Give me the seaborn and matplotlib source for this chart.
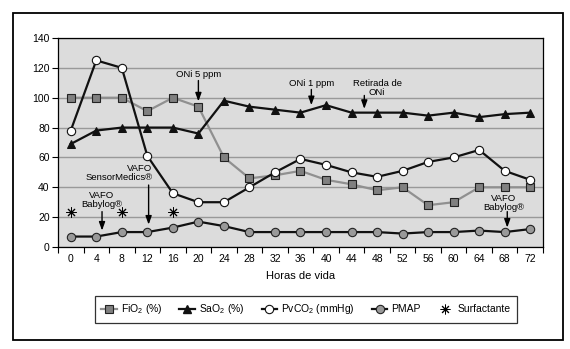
import numpy as np
import pandas as pd
import matplotlib
matplotlib.use("Agg")
import matplotlib.pyplot as plt
import seaborn as sns
from matplotlib.lines import Line2D
from matplotlib.patches import Rectangle

# ---------------- data ----------------
hours = [0, 4, 8, 12, 16, 20, 24, 28, 32, 36, 40, 44, 48, 52, 56, 60, 64, 68, 72]
fio2 = [100, 100, 100, 91, 100, 94, 60, 46, 48, 51, 45, 42, 38, 40, 28, 30, 40, 40, 40]
sao2 = [69, 78, 80, 80, 80, 76, 98, 94, 92, 90, 95, 90, 90, 90, 88, 90, 87, 89, 90]
pvco2 = [78, 125, 120, 61, 36, 30, 30, 40, 50, 59, 55, 50, 47, 51, 57, 60, 65, 51, 45]
pmap = [7, 7, 10, 10, 13, 17, 14, 10, 10, 10, 10, 10, 10, 9, 10, 10, 11, 10, 12]
surf_hours = [0, 8, 16]
surf_level = [23.5, 23.5, 23.5]
series_labels = ["FiO$_2$ (%)", "SaO$_2$ (%)", "PvCO$_2$ (mmHg)", "PMAP", "Surfactante"]
annot_text = ["VAFO\nBabylog®", "VAFO\nSensorMedics®", "ONi 5 ppm", "ONi 1 ppm",
              "Retirada de\nONi", "VAFO\nBabylog®"]

df = pd.DataFrame({"h": hours, "fio2": fio2, "sao2": sao2, "pvco2": pvco2, "pmap": pmap})
sdf = pd.DataFrame({"h": surf_hours, "v": surf_level})

plt.rcParams["font.family"] = ["Liberation Sans", "DejaVu Sans"]
plt.rcParams["mathtext.fontset"] = "custom"
plt.rcParams["mathtext.rm"] = "Liberation Sans"
plt.rcParams["mathtext.it"] = "Liberation Sans"

fig = plt.figure(figsize=(5.70, 3.49), dpi=100)
ax = fig.add_axes([58 / 570, 1 - 247 / 349, (543 - 58) / 570, (247 - 38) / 349])
ax.set_facecolor("#dcdcdc")

lw = 1.6
sq = dict(marker="s", markersize=5.5, markerfacecolor="#808080",
          markeredgecolor="#222222", markeredgewidth=0.8)
tri = dict(marker="^", markersize=5.5, markerfacecolor="#111111",
           markeredgecolor="#111111")
wc = dict(marker="o", markersize=6, markerfacecolor="white",
          markeredgecolor="#111111", markeredgewidth=0.8)
gc = dict(marker="o", markersize=6, markerfacecolor="#999999",
          markeredgecolor="#222222", markeredgewidth=0.8)

sns.lineplot(data=df, x="h", y="fio2", ax=ax, color="#909090", lw=lw, legend=False,
             zorder=3, **sq)
sns.lineplot(data=df, x="h", y="sao2", ax=ax, color="#111111", lw=lw, legend=False,
             zorder=4, **tri)
sns.lineplot(data=df, x="h", y="pvco2", ax=ax, color="#111111", lw=lw, legend=False,
             zorder=5, **wc)
sns.lineplot(data=df, x="h", y="pmap", ax=ax, color="#111111", lw=lw, legend=False,
             zorder=4, **gc)
sns.scatterplot(data=sdf, x="h", y="v", ax=ax, marker=(8, 2, 0), s=45,
                color="black", linewidth=0.7, legend=False, zorder=5)

ax.set_xlim(-2, 74)
ax.set_ylim(0, 140)
ax.set_xticks(hours)
ax.set_xticks(np.arange(-2, 75, 4), minor=True)
ax.tick_params(axis="x", which="major", length=0, pad=5, labelsize=7.5)
ax.tick_params(axis="x", which="minor", length=4, width=0.8, direction="out")
ax.set_yticks(np.arange(0, 141, 20))
ax.tick_params(axis="y", which="major", length=4, width=0.8, pad=2, labelsize=7.5)
ax.yaxis.grid(True, color="#999999", lw=1)
ax.xaxis.grid(False)
ax.set_axisbelow(True)
for s in ax.spines.values():
    s.set_color("black")
    s.set_linewidth(0.9)
ax.set_xlabel("Horas de vida", fontsize=8, labelpad=5)
ax.set_ylabel("")

# annotations
fs = 6.8
arrow = dict(arrowstyle="-|>,head_length=0.5,head_width=0.18", color="black", lw=1,
             shrinkA=0, shrinkB=0)
def arr(x, y0, y1):
    ax.annotate("", xy=(x, y1), xytext=(x, y0), arrowprops=arrow, zorder=6)

ax.text(4.9, 25.5, annot_text[0], ha="center", va="bottom", fontsize=fs, linespacing=1.0)
arr(4.9, 23.7, 11)
ax.text(12.8, 43.5, annot_text[1], ha="right", va="bottom", fontsize=fs,
        multialignment="right", linespacing=1.0)
arr(12.2, 41.5, 15)
ax.text(20, 112.5, annot_text[2], ha="center", va="bottom", fontsize=fs)
arr(20, 111.5, 97.5)
ax.text(37.7, 106.8, annot_text[3], ha="center", va="bottom", fontsize=fs)
arr(37.7, 105.5, 95)
ax.text(48, 100.5, annot_text[4], ha="center", va="bottom", fontsize=fs, linespacing=1.0)
arr(46, 101.5, 92.5)
ax.text(67.9, 23.5, annot_text[5], ha="center", va="bottom", fontsize=fs, linespacing=1.0)
arr(68.4, 23.7, 13)

# legend
handles = [
    Line2D([], [], color="#909090", lw=lw, **sq),
    Line2D([], [], color="#111111", lw=lw, **tri),
    Line2D([], [], color="#111111", lw=lw, **wc),
    Line2D([], [], color="#111111", lw=lw, **gc),
    Line2D([], [], color="black", lw=0, marker=(8, 2, 0), markersize=7,
           markeredgewidth=0.7),
]
leg = fig.legend(handles, series_labels, loc="center",
                 bbox_to_anchor=(306 / 570, 1 - 309.5 / 349), ncol=5, fontsize=7.5,
                 frameon=True, fancybox=False, edgecolor="black", handlelength=1.5,
                 handletextpad=0.4, columnspacing=1.6, borderpad=0.6,
                 borderaxespad=0)
leg.get_frame().set_linewidth(0.9)

fig.patches.append(Rectangle((13 / 570, 1 - 340 / 349), (563 - 13) / 570, (340 - 13) / 349,
                             transform=fig.transFigure, fill=False, edgecolor="black",
                             lw=1.3, zorder=0))

fig.savefig("out.png", dpi=100)
